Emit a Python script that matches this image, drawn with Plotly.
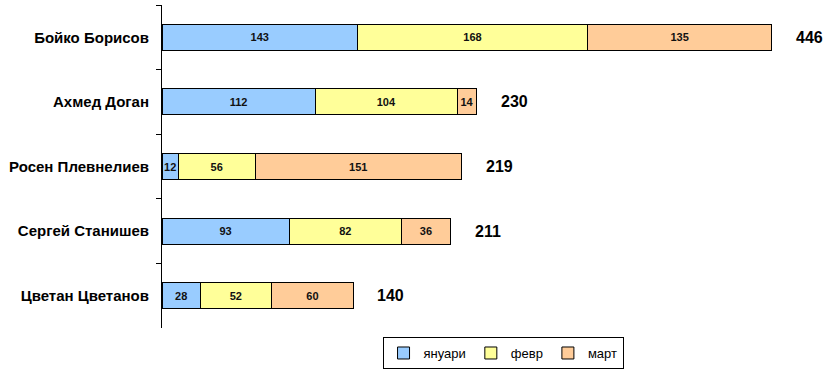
import plotly.graph_objects as go

categories = ["Бойко Борисов", "Ахмед Доган", "Росен Плевнелиев", "Сергей Станишев", "Цветан Цветанов"]
series_names = ["януари", "февр", "март"]
january = [143, 112, 12, 93, 28]
february = [168, 104, 56, 82, 52]
march = [135, 14, 151, 36, 60]
totals = [446, 230, 219, 211, 140]

colors = ["#99CCFF", "#FFFF99", "#FFCC99"]

fig = go.Figure()
for name, vals, col in zip(series_names, [january, february, march], colors):
    fig.add_trace(go.Bar(
        y=categories, x=vals, name=name, orientation="h",
        marker=dict(color=col, line=dict(color="black", width=1)),
        text=["<b>%d</b>" % v for v in vals], textposition="inside",
        insidetextanchor="middle", textangle=0,
        textfont=dict(family="Arial, Liberation Sans", size=11, color="#111111"),
    ))

for cat, tot in zip(categories, totals):
    fig.add_annotation(x=tot, y=cat, text="<b>%d</b>" % tot, showarrow=False,
                       xanchor="left", xshift=22,
                       font=dict(family="Arial, Liberation Sans", size=16, color="black"))

fig.update_layout(
    barmode="stack", bargap=0.6,
    width=836, height=370,
    margin=dict(l=162, r=0, t=5, b=42, autoexpand=False),
    plot_bgcolor="white", paper_bgcolor="white",
    uniformtext=dict(minsize=11, mode="show"),
    showlegend=True,
    legend=dict(orientation="h", x=0.506, xanchor="center", y=-0.028, yanchor="top",
                bordercolor="black", borderwidth=1,
                font=dict(family="Arial, Liberation Sans", size=13, color="black"),
                itemwidth=30, traceorder="normal", tracegroupgap=0),
    xaxis=dict(visible=False, range=[0, 492.8], showgrid=False),
    yaxis=dict(autorange="reversed", showline=True, linecolor="black", linewidth=1,
               automargin=False,
               ticks="outside", ticklen=5, tickcolor="black", tickson="boundaries",
               showgrid=False, ticklabelstandoff=9,
               tickfont=dict(family="Arial, Liberation Sans", size=15, color="black", weight="bold")),
)

fig.write_html("out.html", config={"displayModeBar": False},
               post_script="document.body.style.margin='0';document.body.style.overflow='hidden';")
